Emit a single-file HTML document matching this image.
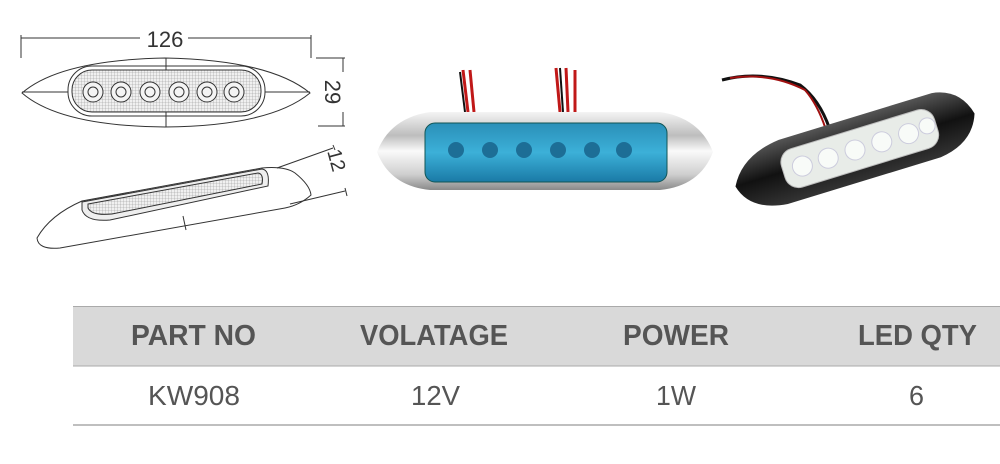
<!DOCTYPE html>
<html><head><meta charset="utf-8"><style>
html,body{margin:0;padding:0;background:#fff;width:1000px;height:464px;overflow:hidden}
svg{display:block}
</style></head><body>
<svg width="1000" height="464" viewBox="0 0 1000 464" xmlns="http://www.w3.org/2000/svg">
<defs>
<linearGradient id="chrome" x1="0" y1="0" x2="0" y2="1">
<stop offset="0" stop-color="#f4f4f4"/><stop offset="0.3" stop-color="#bdbdbd"/><stop offset="0.5" stop-color="#fafafa"/><stop offset="0.8" stop-color="#cfcfcf"/><stop offset="1" stop-color="#8a8a8a"/></linearGradient>
<linearGradient id="blue" x1="0" y1="0" x2="0" y2="1">
<stop offset="0" stop-color="#2a8fb8"/><stop offset="0.5" stop-color="#3cb0d8"/><stop offset="1" stop-color="#1a7aa6"/></linearGradient>
<linearGradient id="dark" x1="0" y1="0" x2="0" y2="1">
<stop offset="0" stop-color="#555"/><stop offset="0.5" stop-color="#111"/><stop offset="1" stop-color="#333"/></linearGradient>
<pattern id="mesh" width="3" height="3" patternUnits="userSpaceOnUse">
<rect width="3" height="3" fill="#f0f0f0"/><path d="M0 0H3M0 0V3" stroke="#999" stroke-width="0.6"/></pattern>
</defs>
<g fill="none" stroke="#333" stroke-width="1">
<line x1="21" y1="38" x2="140" y2="38"/><line x1="188" y1="38" x2="311" y2="38"/>
<line x1="21" y1="35" x2="21" y2="58"/><line x1="311" y1="35" x2="311" y2="58"/>
<path d="M22 93 Q60 60 165 58 Q270 60 310 93 Q270 126 165 127 Q60 126 22 93 Z"/>
<rect x="68" y="66" width="197" height="50" rx="24"/>
<rect x="72" y="70" width="189" height="42" rx="20" fill="url(#mesh)"/>
<line x1="166" y1="58" x2="166" y2="70"/><line x1="166" y1="112" x2="166" y2="127"/>
<line x1="22" y1="92" x2="68" y2="92"/><line x1="265" y1="92" x2="310" y2="92"/>
<g fill="#f4f4f4">
<circle cx="93" cy="92" r="10"/><circle cx="121" cy="92" r="10"/><circle cx="150" cy="92" r="10"/><circle cx="179" cy="92" r="10"/><circle cx="207" cy="92" r="10"/><circle cx="234" cy="92" r="10"/>
<circle cx="93" cy="92" r="5"/><circle cx="121" cy="92" r="5"/><circle cx="150" cy="92" r="5"/><circle cx="179" cy="92" r="5"/><circle cx="207" cy="92" r="5"/><circle cx="234" cy="92" r="5"/></g>
<line x1="316" y1="58" x2="345" y2="58"/><line x1="318" y1="126" x2="345" y2="126"/>
<line x1="343" y1="58" x2="343" y2="72"/><line x1="343" y1="112" x2="343" y2="126"/>
<path d="M37 238 Q50 215 82 201 L262 168 Q285 166 295 173 Q310 185 311 195 Q300 205 285 208 L60 248 Q38 250 37 238 Z"/>
<path d="M82 202 L262 169 Q270 170 268 186 L110 220 Q86 222 82 210 Z" fill="#eee"/>
<path d="M88 204 L258 173 Q264 174 262 184 L112 214 Q92 216 88 208 Z" fill="url(#mesh)"/>
<line x1="183" y1="216" x2="186" y2="230"/>
<line x1="277" y1="168" x2="333" y2="148"/><line x1="333" y1="145" x2="335" y2="150"/>
<line x1="290" y1="204" x2="345" y2="191"/><line x1="345" y1="188" x2="347" y2="196"/>
</g>
<text x="165" y="47" font-family="Liberation Sans, sans-serif" font-size="22" fill="#333" text-anchor="middle">126</text>
<text transform="translate(325,92) rotate(90)" font-family="Liberation Sans, sans-serif" font-size="22" fill="#333" text-anchor="middle">29</text>
<text transform="translate(330,162) rotate(75)" font-family="Liberation Sans, sans-serif" font-size="20" fill="#333" text-anchor="middle">12</text>
<path d="M468 112 L463 70 M474 112 L470 70" stroke="#c01818" stroke-width="3"/>
<path d="M465 112 L460 72" stroke="#111" stroke-width="2"/>
<path d="M560 112 L556 68 M568 112 L566 68 M575 112 L575 70" stroke="#c01818" stroke-width="3"/>
<path d="M563 112 L560 68" stroke="#111" stroke-width="2"/>
<path d="M377 152 Q390 118 430 112 L660 112 Q700 118 713 152 Q700 186 660 190 L430 190 Q390 186 377 152 Z" fill="url(#chrome)"/>
<rect x="425" y="123" width="242" height="59" rx="10" fill="url(#blue)" stroke="#155" stroke-width="1"/>
<g fill="#1d6e96"><circle cx="456" cy="150" r="8"/><circle cx="490" cy="150" r="8"/><circle cx="524" cy="150" r="8"/><circle cx="558" cy="150" r="8"/><circle cx="592" cy="150" r="8"/><circle cx="624" cy="150" r="8"/></g>
<path d="M722 80 Q760 70 800 85 Q820 100 830 130" stroke="#111" stroke-width="3" fill="none"/>
<path d="M730 78 Q770 72 805 90 Q818 105 826 130" stroke="#a01010" stroke-width="2" fill="none"/>
<g transform="translate(855,150) rotate(-17)">
<path d="M-125 0 Q-110 -28 -70 -32 L90 -32 Q118 -28 125 0 Q115 28 80 32 L-80 32 Q-118 28 -125 0 Z" fill="url(#dark)"/>
<rect x="-75" y="-20" width="160" height="40" rx="14" fill="#e8ece8" stroke="#bbb"/>
<g fill="#f8fbf8" stroke="#ccd"><circle cx="-55" cy="0" r="10"/><circle cx="-28" cy="0" r="10"/><circle cx="0" cy="0" r="10"/><circle cx="28" cy="0" r="10"/><circle cx="56" cy="0" r="10"/><circle cx="76" cy="-2" r="8"/></g>
</g>
<rect x="73" y="306" width="927" height="60" fill="#d9d9d9"/>
<line x1="73" y1="306.5" x2="1000" y2="306.5" stroke="#aaa"/>
<line x1="73" y1="366" x2="1000" y2="366" stroke="#aaa"/>
<line x1="73" y1="425" x2="1000" y2="425" stroke="#aaa" stroke-width="1.5"/>
<g font-family="Liberation Sans, sans-serif" font-size="29" font-weight="bold" fill="#555">
<text x="131" y="345" textLength="125" lengthAdjust="spacingAndGlyphs">PART NO</text>
<text x="360" y="345" textLength="148" lengthAdjust="spacingAndGlyphs">VOLATAGE</text>
<text x="623" y="345" textLength="106" lengthAdjust="spacingAndGlyphs">POWER</text>
<text x="858" y="345" textLength="119" lengthAdjust="spacingAndGlyphs">LED QTY</text>
</g>
<g font-family="Liberation Sans, sans-serif" font-size="28" fill="#555">
<text x="148" y="405" textLength="92" lengthAdjust="spacingAndGlyphs">KW908</text>
<text x="411" y="405" textLength="49" lengthAdjust="spacingAndGlyphs">12V</text>
<text x="656" y="405" textLength="40" lengthAdjust="spacingAndGlyphs">1W</text>
<text x="909" y="405" textLength="15" lengthAdjust="spacingAndGlyphs">6</text>
</g>
</svg>
</body></html>
